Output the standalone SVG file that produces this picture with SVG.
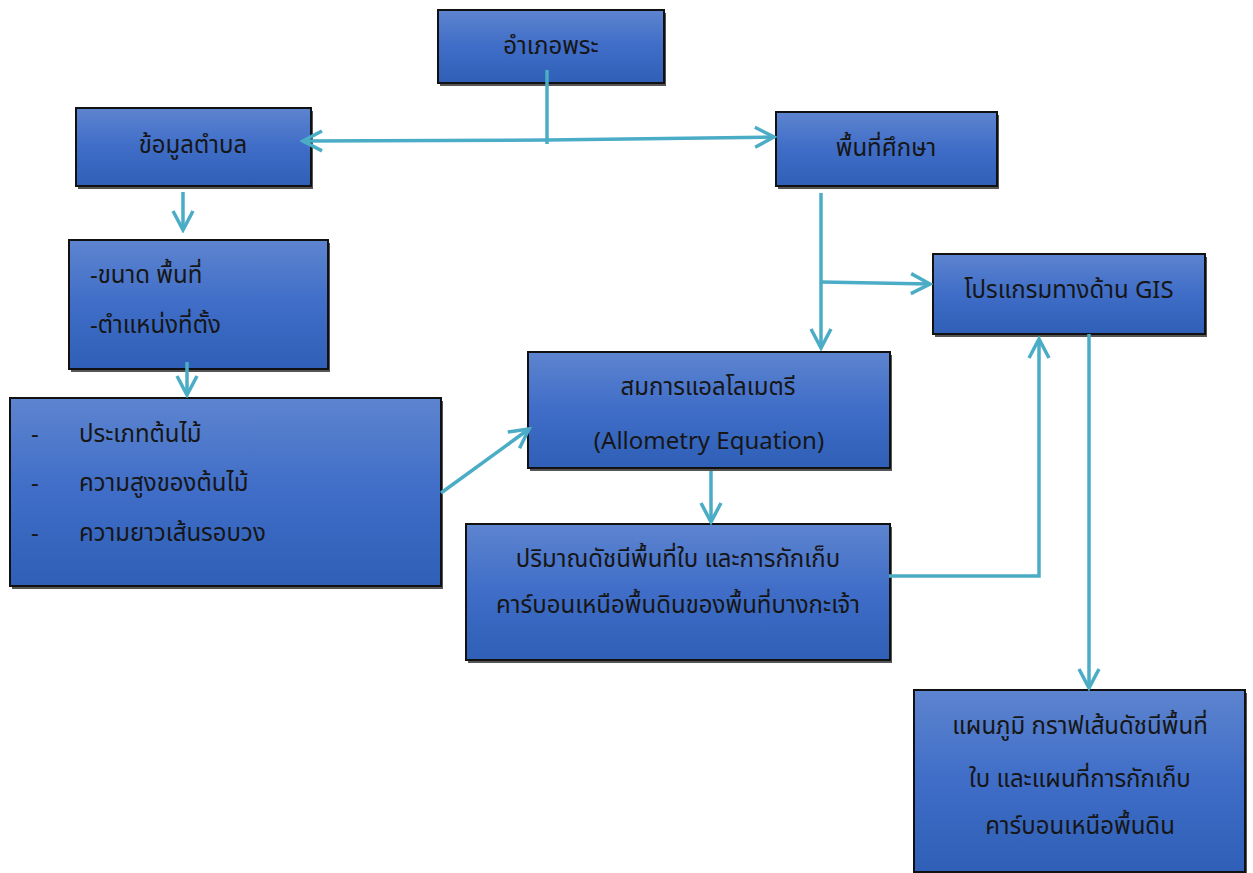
<svg xmlns="http://www.w3.org/2000/svg" width="1253" height="873" viewBox="0 0 1253 873">
<defs>
<linearGradient id="g" x1="0" y1="0" x2="0" y2="1">
<stop offset="0" stop-color="#5d84cf"/>
<stop offset="0.5" stop-color="#3f6dc7"/>
<stop offset="1" stop-color="#2f5fb7"/>
</linearGradient>
<marker id="ah" markerUnits="userSpaceOnUse" markerWidth="24" markerHeight="26" viewBox="0 0 24 26" refX="21" refY="13" orient="auto">
<path d="M2,3 L21,13 L2,23" fill="none" stroke="#4bacc6" stroke-width="3.5"/>
</marker>
<style>
.box{fill:url(#g);stroke:#111;stroke-width:2}
.sh{fill:#555}
.t{font-family:"Noto Sans Thai","Leelawadee UI","Open Sans","Noto Sans",sans-serif;font-size:24px;fill:#161616}
.c{text-anchor:middle}
.ln{fill:none;stroke:#4bacc6;stroke-width:3.5}
</style>
</defs>
<rect width="1253" height="873" fill="#fff"/>

<g id="n1">
<rect class="sh" x="440" y="13" width="226" height="73"/>
<rect class="box" x="438" y="10" width="226" height="73"/>
<text class="t c" x="551" y="54">อำเภอพระ</text>
</g>
<g id="n2">
<rect class="sh" x="78" y="111" width="235" height="78"/>
<rect class="box" x="76" y="108" width="235" height="78"/>
<text class="t c" x="193" y="153">ข้อมูลตำบล</text>
</g>
<g id="n3">
<rect class="sh" x="778" y="115" width="221" height="74"/>
<rect class="box" x="776" y="112" width="221" height="74"/>
<text class="t c" x="886" y="156">พื้นที่ศึกษา</text>
</g>
<g id="n4">
<rect class="sh" x="71" y="243" width="259" height="129"/>
<rect class="box" x="69" y="240" width="259" height="129"/>
<text class="t" x="90" y="283">-ขนาด พื้นที่</text>
<text class="t" x="90" y="333">-ตำแหน่งที่ตั้ง</text>
</g>
<g id="n5">
<rect class="sh" x="12" y="401" width="431" height="188"/>
<rect class="box" x="10" y="398" width="431" height="188"/>
<text class="t" x="31" y="442">-</text>
<text class="t" x="79" y="442">ประเภทต้นไม้</text>
<text class="t" x="31" y="491">-</text>
<text class="t" x="79" y="491">ความสูงของต้นไม้</text>
<text class="t" x="31" y="541">-</text>
<text class="t" x="79" y="541">ความยาวเส้นรอบวง</text>
</g>
<g id="n6">
<rect class="sh" x="530" y="355" width="362" height="116"/>
<rect class="box" x="528" y="352" width="362" height="116"/>
<text class="t c" x="708" y="395">สมการแอลโลเมตรี</text>
<text class="t c" x="709" y="449">(Allometry Equation)</text>
</g>
<g id="n7">
<rect class="sh" x="468" y="527" width="424" height="136"/>
<rect class="box" x="466" y="524" width="424" height="136"/>
<text class="t c" x="678" y="567">ปริมาณดัชนีพื้นที่ใบ และการกักเก็บ</text>
<text class="t c" x="678" y="613">คาร์บอนเหนือพื้นดินของพื้นที่บางกะเจ้า</text>
</g>
<g id="n8">
<rect class="sh" x="935" y="257" width="272" height="80"/>
<rect class="box" x="933" y="254" width="272" height="80"/>
<text class="t c" x="1069" y="298">โปรแกรมทางด้าน GIS</text>
</g>
<g id="n9">
<rect class="sh" x="916" y="693" width="331" height="182"/>
<rect class="box" x="914" y="690" width="331" height="182"/>
<text class="t c" x="1080" y="734">แผนภูมิ กราฟเส้นดัชนีพื้นที่</text>
<text class="t c" x="1080" y="787">ใบ และแผนที่การกักเก็บ</text>
<text class="t c" x="1080" y="834">คาร์บอนเหนือพื้นดิน</text>
</g>

<g id="connectors">
<line class="ln" x1="547" y1="70" x2="547" y2="144"/>
<line class="ln" x1="547" y1="140" x2="303" y2="141" marker-end="url(#ah)"/>
<line class="ln" x1="547" y1="140" x2="774" y2="137" marker-end="url(#ah)"/>
<line class="ln" x1="183" y1="192" x2="183" y2="230" marker-end="url(#ah)"/>
<line class="ln" x1="187" y1="362" x2="187" y2="395" marker-end="url(#ah)"/>
<line class="ln" x1="441" y1="493" x2="529" y2="429" marker-end="url(#ah)"/>
<line class="ln" x1="821" y1="193" x2="821" y2="348" marker-end="url(#ah)"/>
<line class="ln" x1="821" y1="282" x2="930" y2="284" marker-end="url(#ah)"/>
<line class="ln" x1="711" y1="471" x2="711" y2="522" marker-end="url(#ah)"/>
<polyline class="ln" points="889,576 1039,576 1039,339" marker-end="url(#ah)"/>
<line class="ln" x1="1089" y1="334" x2="1089" y2="688" marker-end="url(#ah)"/>
</g>
</svg>
